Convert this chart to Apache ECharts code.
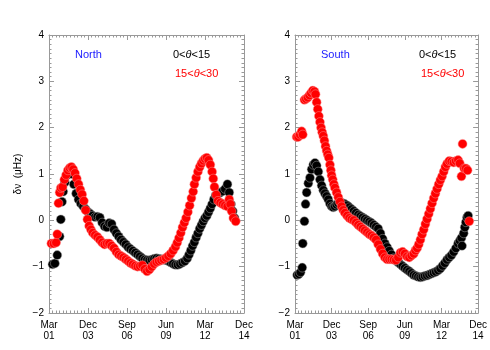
<!DOCTYPE html>
<html>
<head>
<meta charset="utf-8">
<script src="https://cdn.jsdelivr.net/npm/echarts@6/dist/echarts.min.js"></script>
<style>
  html, body { margin: 0; padding: 0; background: #fff; }
</style>
</head>
<body>
<div id="myChart" style="width:490px;height:350px;"></div>
<script>
// x in months since Mar 2001, tick every 33 months
var xTickLabels = ['Mar\n01', 'Dec\n03', 'Sep\n06', 'Jun\n09', 'Mar\n12', 'Dec\n14'];
var yTickLabels = ['\u22122', '\u22121', '0', '1', '2', '3', '4'];

// North, 0<theta<15 (black)
var northBlackM = [3, 5, 7, 9, 10, 11, 12, 13.5, 15, 16.5, 18, 19.5, 21, 23, 25, 27, 29, 31, 33, 35, 37, 39, 41, 43, 45, 47, 49, 51, 53, 55, 57, 59, 61, 63, 65, 67, 69, 71, 73, 75, 77, 79, 81, 83, 85, 87, 89, 91, 93, 95, 97, 99, 101, 103, 105, 107, 109, 111, 113, 115, 117, 118.5, 120, 121.5, 123, 124.5, 126, 127.5, 129, 130.5, 132, 133.5, 135, 136.5, 138, 139.5, 141, 143, 145, 147, 149, 151, 152.5, 154, 155.5, 157];
var northBlackV = [-0.95, -0.93, -0.75, -0.35, 0.02, 0.4, 0.62, 0.82, 0.97, 1.05, 1.1, 1.0, 0.78, 0.58, 0.45, 0.36, 0.3, 0.24, 0.18, 0.14, 0.1, 0.07, 0.08, 0.06, -0.05, -0.13, -0.15, -0.06, -0.08, -0.2, -0.28, -0.35, -0.42, -0.47, -0.52, -0.58, -0.62, -0.66, -0.7, -0.74, -0.78, -0.82, -0.85, -0.86, -0.86, -0.85, -0.83, -0.82, -0.83, -0.84, -0.85, -0.86, -0.88, -0.91, -0.94, -0.96, -0.96, -0.94, -0.91, -0.88, -0.82, -0.74, -0.65, -0.55, -0.47, -0.37, -0.28, -0.18, -0.1, -0.02, 0.05, 0.1, 0.18, 0.26, 0.35, 0.45, 0.54, 0.58, 0.6, 0.63, 0.68, 0.78, 0.6, 0.35, 0.2, 0.05];

// North, 15<theta<30 (red)
var northRedM = [2, 4, 6, 7, 8, 9, 10, 11.5, 13, 14.5, 16, 17.5, 19, 20.5, 22, 23.5, 25, 26.5, 28, 29.5, 31, 32.5, 34, 35.5, 37, 39, 41, 43, 45, 47, 49, 51, 53, 55, 57, 59, 61, 63, 65, 67, 69, 71, 73, 75, 77, 79, 81, 83, 85, 87, 89, 91, 93, 95, 97, 99, 101, 103, 105, 107, 108.5, 110, 111.5, 113, 114.5, 116, 117.5, 119, 120.5, 122, 123, 124.5, 126, 127.5, 129, 130.5, 132, 133.5, 135, 136.5, 138, 139, 140, 141.5, 143, 145, 147, 149, 151, 152.5, 153.5, 154.5, 156, 158];
var northRedV = [-0.5, -0.5, -0.48, -0.3, 0.37, 0.6, 0.7, 0.72, 0.88, 0.98, 1.08, 1.13, 1.15, 1.1, 1.02, 0.9, 0.78, 0.66, 0.56, 0.42, 0.22, 0.02, -0.12, -0.2, -0.27, -0.32, -0.36, -0.42, -0.48, -0.52, -0.5, -0.5, -0.55, -0.6, -0.68, -0.74, -0.77, -0.8, -0.84, -0.88, -0.92, -0.95, -0.98, -1.0, -0.99, -0.97, -1.05, -1.1, -1.06, -1.0, -0.94, -0.9, -0.88, -0.86, -0.84, -0.81, -0.77, -0.72, -0.65, -0.57, -0.48, -0.38, -0.27, -0.15, -0.05, 0.05, 0.18, 0.32, 0.48, 0.62, 0.78, 0.92, 1.05, 1.15, 1.23, 1.29, 1.33, 1.35, 1.3, 1.2, 1.05, 0.9, 0.72, 0.55, 0.42, 0.38, 0.35, 0.32, 0.3, 0.45, 0.35, 0.2, 0.05, -0.02];

// South, 0<theta<15 (black)
var southBlackM = [2, 3.5, 5, 6.5, 7, 8.5, 9.5, 10.5, 12, 13.5, 15, 16.5, 18, 19.5, 21, 22.5, 24, 25.5, 27, 28.5, 30, 31.5, 33, 34.5, 36, 37.5, 39, 41, 43, 45, 47, 49, 51, 53, 55, 57, 59, 61, 63, 65, 67, 69, 71, 73, 75, 77, 79, 81, 83, 85, 87, 89, 91, 93, 95, 97, 99, 101, 103, 105, 107, 109, 111, 113, 115, 117, 119, 121, 123, 125, 127, 129, 131, 133, 135, 137, 139, 141, 143, 145, 147, 148.5, 150, 150.5, 152, 153, 154, 155, 156];
var southBlackV = [-1.18, -1.16, -1.12, -1.02, -0.5, -0.02, 0.35, 0.6, 0.8, 0.92, 1.1, 1.2, 1.24, 1.18, 1.05, 0.88, 0.75, 0.65, 0.58, 0.52, 0.45, 0.36, 0.3, 0.28, 0.3, 0.34, 0.37, 0.38, 0.37, 0.35, 0.32, 0.28, 0.24, 0.2, 0.16, 0.12, 0.09, 0.06, 0.03, 0.0, -0.03, -0.06, -0.1, -0.14, -0.18, -0.28, -0.4, -0.5, -0.58, -0.66, -0.74, -0.82, -0.87, -0.91, -0.95, -0.99, -1.03, -1.07, -1.1, -1.14, -1.18, -1.2, -1.22, -1.23, -1.22, -1.2, -1.19, -1.17, -1.15, -1.13, -1.11, -1.08, -1.04, -0.98, -0.92, -0.85, -0.8, -0.75, -0.68, -0.6, -0.5, -0.44, -0.38, -0.55, -0.28, -0.15, -0.04, 0.06, 0.1];

// South, 15<theta<30 (red)
var southRedM = [1.5, 3, 4.5, 6, 7, 8.5, 10, 11.5, 13, 14.5, 16, 17.5, 18.5, 19.5, 20.5, 21.5, 22.5, 23.5, 24.5, 25.5, 26.5, 27.5, 28.5, 29.5, 30.5, 31.5, 32.3, 33, 34, 35, 36, 37.5, 39, 40.5, 42, 43.5, 45, 47, 49, 51, 53, 55, 57, 59, 61, 63, 65, 67, 69, 71, 73, 75, 77, 79, 81, 83, 85, 87, 89, 91, 93, 95, 97, 99, 101, 103, 105, 107, 108.5, 110, 111.5, 113, 114.5, 116, 117.5, 119, 120.5, 122, 123.5, 125, 126.5, 128, 129.5, 131, 132.5, 134, 135.5, 137, 139, 141, 143, 145, 147, 148.5, 150, 151, 152.5, 154, 155.5, 157];
var southRedV = [1.8, 1.8, 1.85, 1.92, 1.85, 2.6, 2.62, 2.65, 2.7, 2.75, 2.8, 2.78, 2.72, 2.55, 2.4, 2.25, 2.12, 2.0, 1.9, 1.82, 1.72, 1.6, 1.5, 1.42, 1.35, 1.2, 1.08, 0.97, 0.88, 0.78, 0.7, 0.6, 0.5, 0.4, 0.3, 0.22, 0.16, 0.1, 0.05, 0.02, 0.0, -0.05, -0.1, -0.14, -0.18, -0.22, -0.26, -0.3, -0.33, -0.37, -0.42, -0.52, -0.62, -0.72, -0.8, -0.84, -0.84, -0.84, -0.85, -0.86, -0.8, -0.7, -0.68, -0.72, -0.78, -0.8, -0.76, -0.72, -0.65, -0.6, -0.52, -0.42, -0.3, -0.2, -0.08, 0.03, 0.14, 0.25, 0.37, 0.48, 0.58, 0.68, 0.78, 0.87, 0.95, 1.05, 1.15, 1.22, 1.28, 1.27, 1.25, 1.28, 1.3, 1.23, 0.95, 1.65, 1.12, 1.12, 1.08, -0.02];

function pairs(ms, vs) {
    var out = [];
    for (var i = 0; i < ms.length; i++) {
        out.push([ms[i], vs[i]]);
    }
    return out;
}

var frameColor = '#999';
var labelFont = { color: '#000', fontSize: 10, fontFamily: 'Liberation Sans' };

function makeX(grid, pos) {
    return {
        type: 'value', gridIndex: grid, position: pos,
        min: 0, max: 165, interval: 33,
        axisLine: { show: true, onZero: false, lineStyle: { color: frameColor, width: 1 } },
        axisTick: { show: true, inside: true, length: 5, lineStyle: { color: frameColor } },
        minorTick: { show: true, splitNumber: 11, length: 2.5, lineStyle: { color: frameColor } },
        splitLine: { show: false },
        axisLabel: pos == 'bottom' ? {
            show: true, margin: 7, lineHeight: 11,
            color: labelFont.color, fontSize: labelFont.fontSize, fontFamily: labelFont.fontFamily,
            formatter: function (v) { return xTickLabels[Math.round(v / 33)]; }
        } : { show: false }
    };
}

function makeY(grid, pos, withName) {
    var ax = {
        type: 'value', gridIndex: grid, position: pos,
        min: -2, max: 4, interval: 1,
        axisLine: { show: true, onZero: false, lineStyle: { color: frameColor, width: 1 } },
        axisTick: { show: true, inside: true, length: 5, lineStyle: { color: frameColor } },
        minorTick: { show: true, splitNumber: 10, length: 2.5, lineStyle: { color: frameColor } },
        splitLine: { show: false },
        axisLabel: pos == 'left' ? {
            show: true, margin: 5,
            color: labelFont.color, fontSize: labelFont.fontSize, fontFamily: labelFont.fontFamily,
            formatter: function (v) { return yTickLabels[Math.round(v + 2)]; }
        } : { show: false }
    };
    if (withName) {
        ax.name = '\u03b4\u03bd  (\u03bcHz)';
        ax.nameLocation = 'middle';
        ax.nameGap = 26;
        ax.nameRotate = 90;
        ax.nameTextStyle = { color: '#000', fontSize: 10, fontFamily: 'Liberation Sans' };
    }
    return ax;
}

function dots(name, xi, yi, data, color, halo) {
    return {
        name: name, type: 'scatter', xAxisIndex: xi, yAxisIndex: yi,
        data: data, symbol: 'circle', symbolSize: 9,
        itemStyle: { color: color, borderColor: halo, borderWidth: 0.8, opacity: 1 },
        emphasis: { disabled: true },
        animation: false
    };
}

function labelTexts(dx, region) {
    var f = '11px "Liberation Sans"';
    return [
        { type: 'text', x: 75 + dx, y: 55, style: { text: region, fill: '#1a1aff', font: f, verticalAlign: 'middle' } },
        { type: 'text', x: 173 + dx, y: 55, style: { text: '0<{i|\u03b8}<15', fill: '#000', font: f, verticalAlign: 'middle',
            rich: { i: { fontStyle: 'italic', fontSize: 11, fontFamily: 'Liberation Sans', fill: '#000' } } } },
        { type: 'text', x: 175 + dx, y: 74, style: { text: '15<{i|\u03b8}<30', fill: '#ff0000', font: f, verticalAlign: 'middle',
            rich: { i: { fontStyle: 'italic', fontSize: 11, fontFamily: 'Liberation Sans', fill: '#ff0000' } } } }
    ];
}

var chart = echarts.init(document.getElementById('myChart'), null, { renderer: 'canvas' });
chart.setOption({
    backgroundColor: '#fff',
    animation: false,
    grid: [
        { left: 49, top: 35, width: 195, height: 278 },
        { left: 295, top: 35, width: 194, height: 278 }
    ],
    xAxis: [makeX(0, 'bottom'), makeX(0, 'top'), makeX(1, 'bottom'), makeX(1, 'top')],
    yAxis: [makeY(0, 'left', true), makeY(0, 'right'), makeY(1, 'left'), makeY(1, 'right')],
    graphic: labelTexts(0, 'North').concat(labelTexts(246, 'South')),
    series: [
        dots('N 0-15', 0, 0, pairs(northBlackM, northBlackV), '#000', 'rgba(170,170,170,0.6)'),
        dots('N 15-30', 0, 0, pairs(northRedM, northRedV), '#ff0000', 'rgba(255,150,150,0.6)'),
        dots('S 0-15', 2, 2, pairs(southBlackM, southBlackV), '#000', 'rgba(170,170,170,0.6)'),
        dots('S 15-30', 2, 2, pairs(southRedM, southRedV), '#ff0000', 'rgba(255,150,150,0.6)')
    ]
});
</script>
</body>
</html>
